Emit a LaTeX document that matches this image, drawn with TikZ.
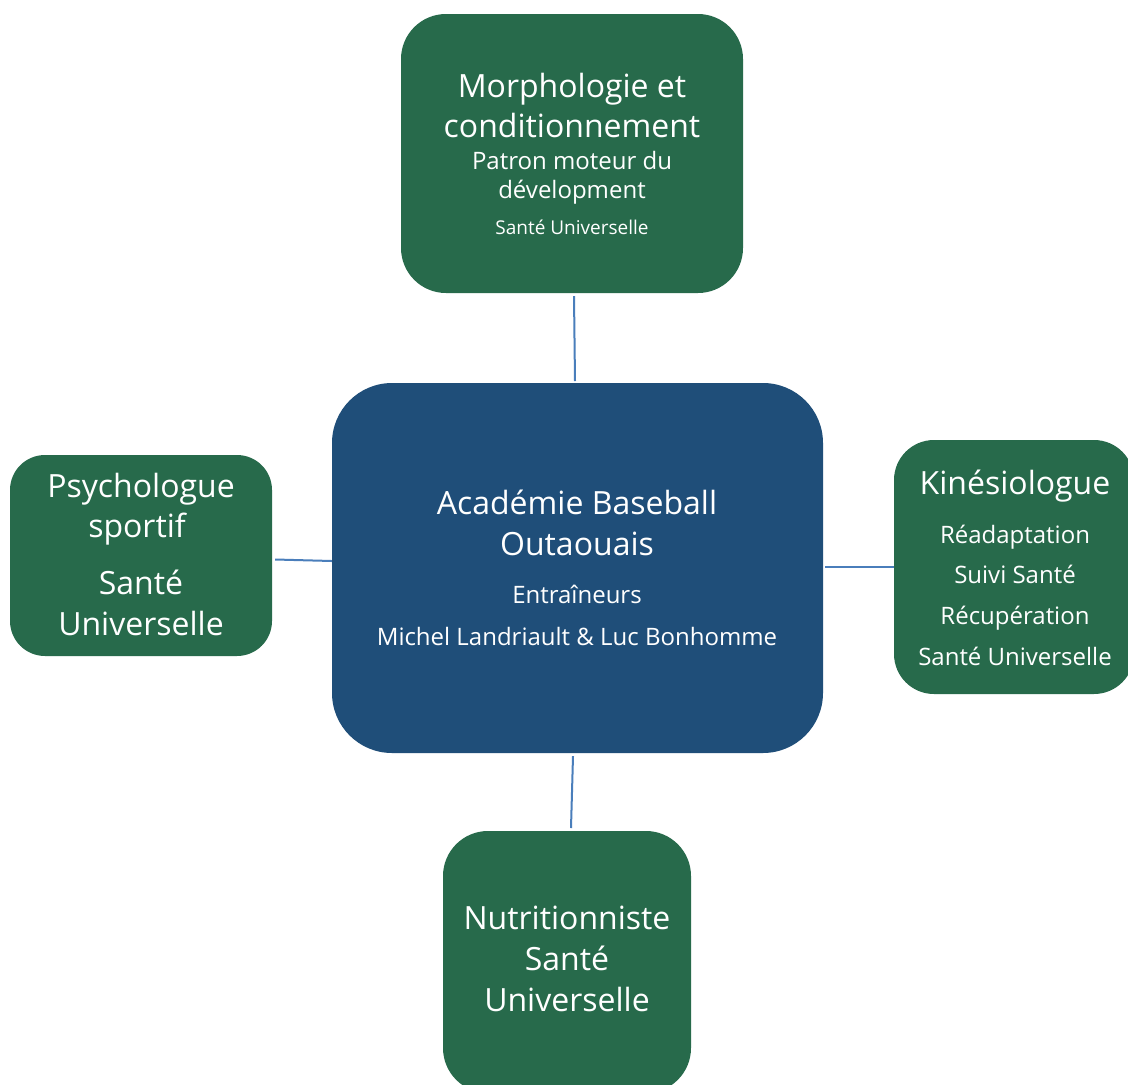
\documentclass[tikz,border=0pt]{standalone}
\usepackage{fontspec}
\setmainfont{Open Sans}
\definecolor{boxgreen}{HTML}{276A4B}
\definecolor{boxblue}{HTML}{1F4E79}
\definecolor{linkblue}{HTML}{4A7EBB}
\begin{document}
\begin{tikzpicture}[x=1pt,y=-1pt,
  gbox/.style={fill=boxgreen,draw=none,rounded corners=#1,inner sep=0pt},
  bbox/.style={fill=boxblue,draw=none,rounded corners=60pt,inner sep=0pt},
  link/.style={draw=linkblue,line width=2pt},
  big/.style={text=white,anchor=base,inner sep=0pt,font=\fontsize{32}{38}\selectfont},
  mid/.style={text=white,anchor=base,inner sep=0pt,font=\fontsize{24}{29}\selectfont},
  sml/.style={text=white,anchor=base,inner sep=0pt,font=\fontsize{19}{23}\selectfont}]
\clip (0,0) rectangle (1128,1085);
\fill[white] (0,0) rectangle (1128,1085);
% boxes
\node[gbox=45pt,minimum width=342pt,minimum height=279pt] (top) at (572,153.5) {};
\node[bbox,minimum width=491pt,minimum height=370pt] (ctr) at (577.5,568) {};
\node[gbox=35pt,minimum width=262pt,minimum height=201pt] (left) at (141,555.5) {};
\node[gbox=40pt,minimum width=240pt,minimum height=254pt] (right) at (1014,567) {};
\node[gbox=45pt,minimum width=248pt,minimum height=262pt] (bot) at (567,962) {};
% connectors
\draw[link] (top.south) ++(2,3) coordinate (a1) -- (575,381) coordinate (a2);
\draw[link] (left.east) ++(3,4) coordinate (b1) -- (ctr.west |- 0,561) coordinate (b2);
\draw[link] (ctr.east) ++(2,-1) coordinate (c1) -- (right.west |- 0,567) coordinate (c2);
\draw[link] (ctr.south) ++(-4.5,3) coordinate (d1) -- (571,828) coordinate (d2);
% top text
\node[big] (t1) at (572,97) {Morphologie et};
\node[big] (t2) at (572,137) {conditionnement};
\node[mid] (t3) at (572,169) {Patron moteur du};
\node[mid] (t4) at (572,198) {dévelopment};
\node[sml] (t5) at (572,234) {Santé Universelle};
% center text
\node[big] (c1t) at (577,514) {Académie Baseball};
\node[big] (c2t) at (577,555) {Outaouais};
\node[mid] (c3t) at (577,603) {Entraîneurs};
\node[mid] (c4t) at (577,645) {Michel Landriault \& Luc Bonhomme};
% left text
\node[big] (l1) at (141,497) {Psychologue};
\node[big] (l2) at (137,537) {sportif};
\node[big] (l3) at (141,594) {Santé};
\node[big] (l4) at (141,635) {Universelle};
% right text
\node[big] (r1) at (1015,494) {Kinésiologue};
\node[mid] (r2) at (1015,543) {Réadaptation};
\node[mid] (r3) at (1015,583) {Suivi Santé};
\node[mid] (r4) at (1015,624) {Récupération};
\node[mid] (r5) at (1015,665) {Santé Universelle};
% bottom text
\node[big] (n1) at (567,929) {Nutritionniste};
\node[big] (n2) at (567,970) {Santé};
\node[big] (n3) at (567,1011) {Universelle};
\end{tikzpicture}
\end{document}
